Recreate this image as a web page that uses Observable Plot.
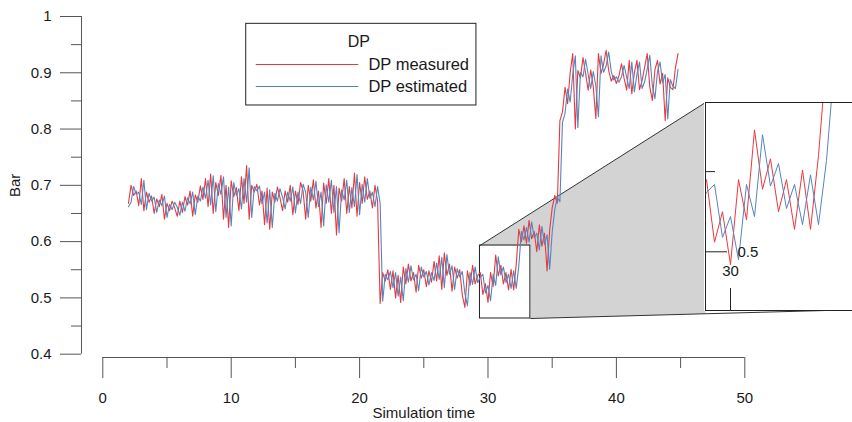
<!DOCTYPE html>
<html><head><meta charset="utf-8">
<script src="https://cdn.jsdelivr.net/npm/d3@7"></script>
<script src="https://cdn.jsdelivr.net/npm/@observablehq/plot@0.6"></script>
<style>
html,body{margin:0;padding:0;background:#fff;}
#wrap{position:relative;width:852px;height:422px;overflow:hidden;font-family:"Liberation Sans",Arial,sans-serif;}
#wrap svg{display:block;}
</style></head><body><div id="wrap"></div>
<script>
// ---------- data ----------
const startTime = 2.0;
const timeStep = 0.2;
const measured = [
0.668,0.700,0.682,0.690,0.664,0.712,0.655,0.688,0.670,0.681,
0.650,0.676,0.662,0.684,0.640,0.668,0.655,0.672,0.660,0.645,
0.672,0.652,0.680,0.665,0.690,0.645,0.683,0.670,0.699,0.675,
0.712,0.662,0.720,0.650,0.705,0.682,0.718,0.640,0.700,0.625,
0.708,0.680,0.696,0.655,0.715,0.668,0.735,0.640,0.700,0.688,
0.702,0.665,0.690,0.630,0.695,0.622,0.688,0.670,0.697,0.678,
0.655,0.690,0.670,0.700,0.648,0.690,0.666,0.705,0.690,0.640,
0.700,0.672,0.710,0.660,0.690,0.625,0.704,0.668,0.712,0.650,
0.700,0.612,0.695,0.672,0.712,0.650,0.698,0.660,0.722,0.645,
0.705,0.668,0.715,0.675,0.690,0.660,0.700,0.672,
0.490,0.545,0.530,0.550,0.515,0.548,0.500,0.540,0.492,0.555,
0.525,0.560,0.530,0.545,0.510,0.558,0.535,0.550,0.520,0.548,
0.528,0.565,0.530,0.575,0.515,0.580,0.540,0.560,0.512,0.555,
0.535,0.550,0.505,0.483,0.548,0.522,0.558,0.525,0.540,
0.545,0.506,0.525,0.492,0.545,0.520,0.576,0.539,0.558,0.525,0.545,0.514,0.551,0.514,0.560,
0.622,0.600,0.628,0.597,0.638,0.605,0.618,0.582,0.630,0.592,0.615,0.548,0.620,0.660,0.682,0.668,
0.815,0.830,0.874,0.845,0.900,0.934,0.800,0.904,0.891,0.927,
0.899,0.869,0.905,0.875,0.819,0.934,0.899,0.915,0.940,0.904,
0.885,0.895,0.881,0.895,0.916,0.890,0.869,0.922,0.863,0.900,
0.922,0.870,0.886,0.910,0.934,0.875,0.851,0.905,0.922,0.880,
0.899,0.815,0.891,0.874,0.870,0.909,0.934
];
const estimated = [
0.662,0.670,0.698,0.684,0.688,0.666,0.709,0.657,0.686,0.672,
0.679,0.652,0.674,0.664,0.681,0.643,0.666,0.657,0.670,0.661,
0.647,0.670,0.654,0.678,0.667,0.688,0.648,0.681,0.672,0.697,
0.677,0.709,0.665,0.717,0.653,0.703,0.684,0.715,0.643,0.697,
0.628,0.705,0.682,0.694,0.658,0.712,0.670,0.731,0.643,0.698,
0.690,0.699,0.667,0.688,0.633,0.692,0.625,0.686,0.672,0.694,
0.679,0.658,0.688,0.672,0.697,0.651,0.688,0.668,0.702,0.688,
0.643,0.697,0.674,0.707,0.662,0.688,0.628,0.701,0.670,0.709,
0.652,0.698,0.616,0.692,0.674,0.709,0.652,0.696,0.662,0.719,
0.648,0.702,0.670,0.712,0.677,0.688,0.662,0.698,
0.668,0.494,0.542,0.532,0.547,0.518,0.545,0.503,0.537,0.495,
0.552,0.528,0.557,0.532,0.542,0.513,0.555,0.537,0.547,0.523,
0.545,0.531,0.562,0.533,0.572,0.518,0.577,0.542,0.557,0.515,
0.552,0.537,0.547,0.508,0.486,0.545,0.524,0.555,0.527,
0.537,0.542,0.509,0.522,0.495,0.542,0.522,0.573,0.541,0.555,0.527,0.542,0.517,0.548,0.517,
0.557,0.618,0.603,0.625,0.599,0.635,0.607,0.615,0.585,0.627,0.595,0.612,0.551,0.617,0.657,0.679,
0.671,0.812,0.828,0.871,0.848,0.897,0.930,0.803,0.901,0.893,
0.924,0.897,0.872,0.902,0.877,0.822,0.930,0.901,0.912,0.937,
0.902,0.887,0.893,0.883,0.893,0.913,0.892,0.872,0.919,0.866,
0.897,0.919,0.872,0.884,0.907,0.931,0.877,0.854,0.902,0.919,
0.882,0.897,0.818,0.888,0.876,0.872,0.906
];
const seriesNames = ["DP measured", "DP estimated"];
const seriesColors = ["#e8393f", "#5585bd"];
const legendTitle = "DP";
const xTitle = "Simulation time";
const yTitle = "Bar";
const xTicks = [0,5,10,15,20,25,30,35,40,45,50];
const xTickLabels = ["0","","10","","20","","30","","40","","50"];
const yTicks = [0.4,0.45,0.5,0.55,0.6,0.65,0.7,0.75,0.8,0.85,0.9,0.95,1];
const yTickLabels = ["0.4","","0.5","","0.6","","0.7","","0.8","","0.9","","1"];
const zoomX = [29.375, 33.3];
const zoomY = [0.4634, 0.5931];
const insetXTicks = [30];
const insetXTickLabels = ["30"];
const insetYTicks = [0.5, 0.55];
const insetYTickLabels = ["0.5", ""];

// ---------- table ----------
const rows = measured.map((v, i) => ({t: +(startTime + i * timeStep).toFixed(2), measured: v, estimated: estimated[i]}));

// ---------- layout (in main-plot data units) ----------
const font = "Liberation Sans, Arial, sans-serif";
const textColor = "#1a1a1a";
const axisColor = "#555";
const L = {
  yAxisX: -1.659, yTickMajor: -3.294, yTickMinor: -2.438, yLabelX: -3.99, yTitleX: -6.8,
  xAxisY: 0.3941, xTickMajor: 0.3568, xTickMinor: 0.3746, xLabelY: 0.3213, xTitleY: 0.2946,
  legX1: 11.17, legX2: 29.1, legY1: 0.8419, legY2: 0.987,
  legTitleX: 19.94, legTitleY: 0.9556, legLineX1: 11.95, legLineX2: 19.94, legTextX: 20.69,
  legRowY: [0.9147, 0.8756],
  insetLeft: 46.94, insetTop: 0.8472, insetBottomAtLeft: 0.4717, insetRightEdgeX: 58.39, insetRightEdgeY: 0.4789
};

const poly = [
  {x: zoomX[0], y: zoomY[1]},
  {x: L.insetLeft, y: L.insetTop},
  {x: L.insetLeft, y: L.insetBottomAtLeft},
  {x: zoomX[1], y: zoomY[0]},
  {x: zoomX[1], y: zoomY[1]}
];

const main = Plot.plot({
  width: 852, height: 422,
  marginTop: 0, marginRight: 0, marginBottom: 0, marginLeft: 0,
  x: {domain: [-7.967, 58.388], axis: null},
  y: {domain: [0.27861, 1.02843], axis: null},
  style: {background: "white", fontFamily: font},
  marks: [
    Plot.line(poly, {x: "x", y: "y", fill: "#d3d3d3", stroke: "none", curve: "linear-closed"}),
    Plot.link([{x1: zoomX[0], y1: zoomY[1], x2: L.insetLeft, y2: L.insetTop},
               {x1: zoomX[1], y1: zoomY[0], x2: L.insetRightEdgeX, y2: L.insetRightEdgeY}],
      {x1: "x1", y1: "y1", x2: "x2", y2: "y2", stroke: "#333", strokeWidth: 1}),
    Plot.rect([{x1: zoomX[0], x2: zoomX[1], y1: zoomY[0], y2: zoomY[1]}],
      {x1: "x1", x2: "x2", y1: "y1", y2: "y2", fill: "none", stroke: "#222", strokeWidth: 1}),
    Plot.line(rows, {x: "t", y: "measured", stroke: seriesColors[0], strokeWidth: 1.1}),
    Plot.line(rows, {x: "t", y: "estimated", stroke: seriesColors[1], strokeWidth: 1.1}),
    // y axis
    Plot.ruleX([L.yAxisX], {x: d => d, y1: () => yTicks[0], y2: () => yTicks[yTicks.length - 1], stroke: axisColor}),
    Plot.ruleY(yTicks, {y: d => d, x1: (d, i) => yTickLabels[i] ? L.yTickMajor : L.yTickMinor, x2: () => L.yAxisX, stroke: axisColor}),
    Plot.text(yTicks, {y: d => d, x: () => L.yLabelX, text: (d, i) => yTickLabels[i], textAnchor: "end", fontSize: 15, fill: textColor}),
    Plot.text([yTitle], {x: () => L.yTitleX, y: () => 0.7, text: d => d, rotate: -90, fontSize: 15, fill: textColor}),
    // x axis
    Plot.ruleY([L.xAxisY], {y: d => d, x1: () => xTicks[0], x2: () => xTicks[xTicks.length - 1], stroke: axisColor}),
    Plot.ruleX(xTicks, {x: d => d, y1: () => L.xAxisY, y2: (d, i) => xTickLabels[i] ? L.xTickMajor : L.xTickMinor, stroke: axisColor}),
    Plot.text(xTicks, {x: d => d, y: () => L.xLabelY, text: (d, i) => xTickLabels[i], fontSize: 15, fill: textColor}),
    Plot.text([xTitle], {x: () => 25, y: () => L.xTitleY, text: d => d, fontSize: 15, fill: textColor}),
    // legend
    Plot.rect([{x1: L.legX1, x2: L.legX2, y1: L.legY1, y2: L.legY2}],
      {x1: "x1", x2: "x2", y1: "y1", y2: "y2", fill: "white", stroke: "#222", strokeWidth: 1}),
    Plot.text([legendTitle], {x: () => L.legTitleX, y: () => L.legTitleY, text: d => d, fontSize: 16, fill: textColor}),
    Plot.ruleY(seriesNames, {y: (d, i) => L.legRowY[i], x1: () => L.legLineX1, x2: () => L.legLineX2, stroke: (d, i) => seriesColors[i], strokeWidth: 1}),
    Plot.text(seriesNames, {x: () => L.legTextX, y: (d, i) => L.legRowY[i], text: d => d, textAnchor: "start", fontSize: 16.5, fill: textColor})
  ]
});
main.style.position = "absolute";
main.style.left = "0px";
main.style.top = "0px";

// ---------- inset (zoomed view) ----------
const insetPxPerX = 40;     // px per time unit
const insetW = 148, insetH = 210;
const inset = Plot.plot({
  width: insetW, height: insetH,
  marginTop: 1, marginBottom: 1, marginLeft: 1, marginRight: 0,
  x: {domain: [zoomX[0], zoomX[0] + (insetW - 1) / insetPxPerX], axis: null},
  y: {domain: zoomY, axis: null},
  style: {background: "white", fontFamily: font},
  marks: [
    Plot.line(rows, {x: "t", y: "measured", stroke: seriesColors[0], strokeWidth: 1, clip: true}),
    Plot.line(rows, {x: "t", y: "estimated", stroke: seriesColors[1], strokeWidth: 1, clip: true}),
    Plot.ruleY(insetYTicks, {y: d => d, x1: () => zoomX[0], x2: (d, i) => zoomX[0] + (insetYTickLabels[i] ? 22 : 10) / insetPxPerX, stroke: "#222"}),
    Plot.text(insetYTicks, {y: d => d, x: () => zoomX[0] + 32 / insetPxPerX, text: (d, i) => insetYTickLabels[i], textAnchor: "start", fontSize: 15, fill: textColor}),
    Plot.ruleX(insetXTicks, {x: d => d, y1: () => zoomY[0], y2: () => zoomY[0] + 0.0137, stroke: "#222"}),
    Plot.text(insetXTicks, {x: d => d, y: () => zoomY[0] + 0.0247, text: (d, i) => insetXTickLabels[i], fontSize: 15, fill: textColor}),
    Plot.ruleX([zoomX[0]], {x: d => d, y1: () => zoomY[0], y2: () => zoomY[1], stroke: "#222"}),
    Plot.ruleY(zoomY, {y: d => d, stroke: "#222"})
  ]
});
inset.style.position = "absolute";
inset.style.left = "704px";
inset.style.top = "101px";

const wrap = document.getElementById("wrap");
wrap.appendChild(main);
wrap.appendChild(inset);
</script></body></html>
